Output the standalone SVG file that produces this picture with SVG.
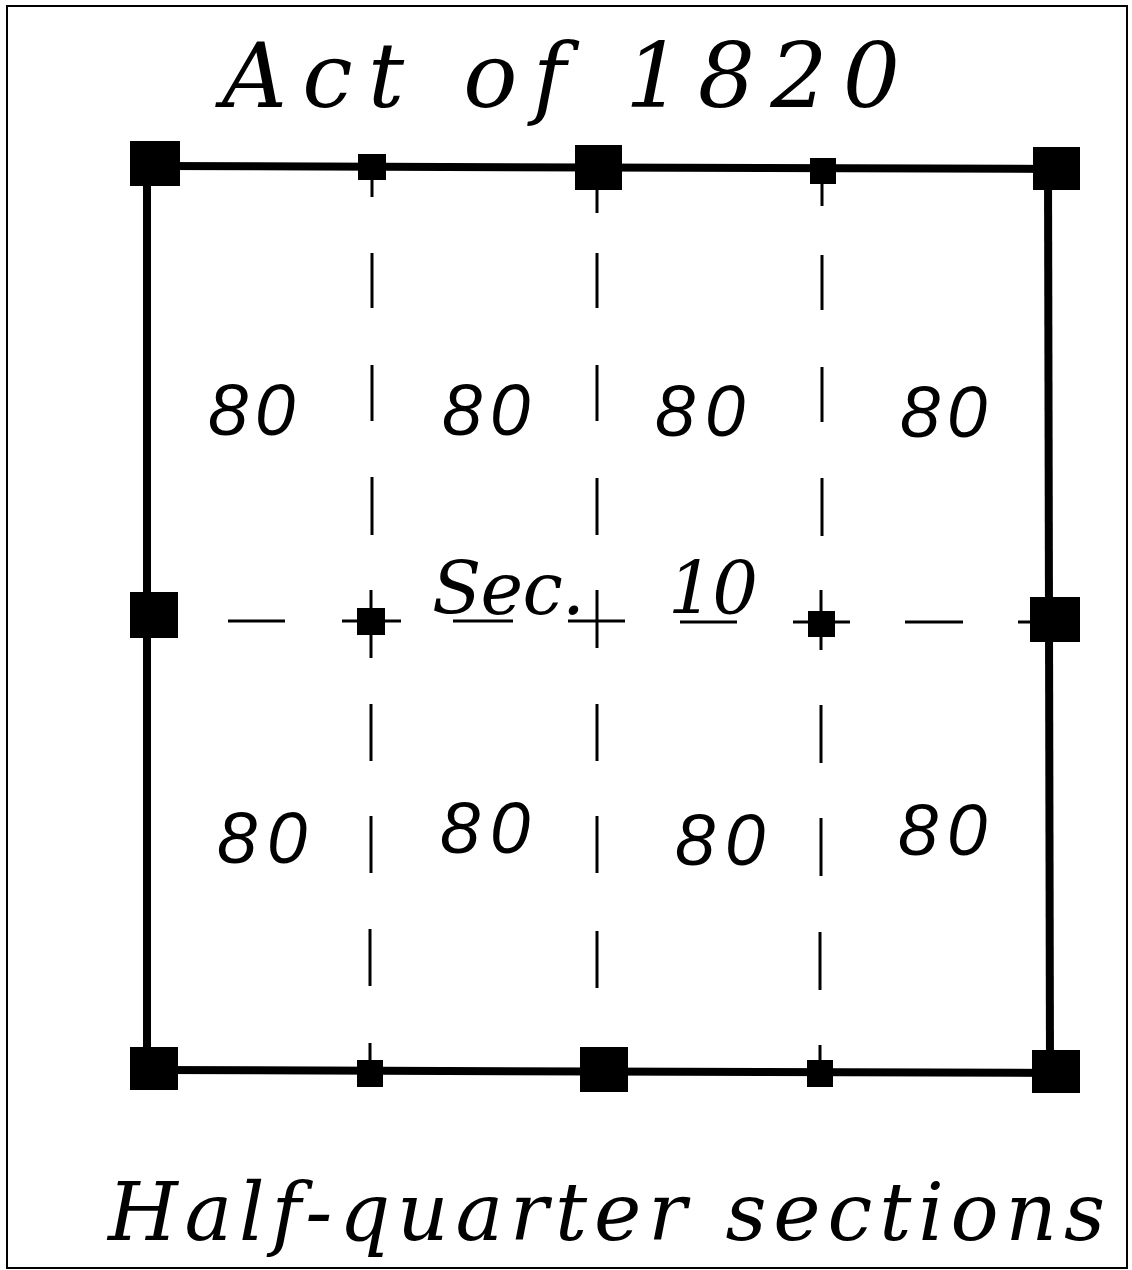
<svg xmlns="http://www.w3.org/2000/svg" width="1132" height="1270" viewBox="0 0 1132 1270">
<style>
.frame{fill:none;stroke:#000;stroke-width:2}
.edge{stroke:#000;stroke-width:8;fill:none;stroke-linecap:butt}
.dash{stroke:#000;stroke-width:3;fill:none}
.big{fill:#000}
.small{fill:#000}
.title{font-family:"DejaVu Serif","Liberation Serif",serif;font-style:italic;fill:#000}
.num{font-family:"Liberation Sans","DejaVu Sans",sans-serif;font-style:italic;font-size:72px;fill:#000}
</style>
<rect width="1132" height="1270" fill="#fff"/>
<rect class="frame" x="7" y="6" width="1120" height="1262"/>

<text id="title" class="title" x="222" y="107" font-size="90" textLength="678" lengthAdjust="spacing">Act of 1820</text>

<g id="connectors">
  <line class="edge" x1="155" y1="166" x2="1057" y2="169"/>
  <line class="edge" x1="147" y1="163" x2="147" y2="1068"/>
  <line class="edge" x1="1048" y1="168" x2="1050" y2="1072"/>
  <line class="edge" x1="154" y1="1070" x2="1056" y2="1073"/>
  <path class="dash" d="M372 178V197 M372 253V308 M372 365V421 M372 477V535 M371 590V658 M371 704V761 M371 816V873 M370 929V986 M370 1043V1062"/>
  <path class="dash" d="M597 188V213 M597 253V308 M597 365V421 M597 478V535 M597 590V648 M597 704V761 M597 816V873 M597 931V988"/>
  <path class="dash" d="M822 183V206 M822 255V310 M822 367V422 M822 478V536 M821 590V650 M821 705V763 M821 818V876 M820 932V990 M820 1045V1062"/>
  <path class="dash" d="M228 621H285 M342 621H401 M453 621H513 M568 621H625 M680 622H737 M793 622H850 M905 622H963 M1018 622H1032"/>
</g>

<g id="corner-markers">
  <rect class="big" x="130" y="141" width="50" height="45"/>
  <rect class="big" x="575" y="145" width="47" height="45"/>
  <rect class="big" x="1033" y="147" width="47" height="43"/>
  <rect class="big" x="130" y="592" width="48" height="46"/>
  <rect class="big" x="1030" y="597" width="50" height="45"/>
  <rect class="big" x="130" y="1047" width="48" height="43"/>
  <rect class="big" x="580" y="1047" width="48" height="45"/>
  <rect class="big" x="1032" y="1050" width="48" height="43"/>
</g>

<g id="quarter-markers">
  <rect class="small" x="358" y="154" width="28" height="26"/>
  <rect class="small" x="810" y="158" width="26" height="26"/>
  <rect class="small" x="357" y="608" width="28" height="27"/>
  <rect class="small" x="808" y="611" width="27" height="26"/>
  <rect class="small" x="357" y="1060" width="26" height="27"/>
  <rect class="small" x="807" y="1060" width="26" height="27"/>
</g>

<g id="labels">
  <text class="num" x="208" y="435" textLength="87" lengthAdjust="spacing">80</text>
  <text class="num" x="442" y="435" textLength="88" lengthAdjust="spacing">80</text>
  <text class="num" x="655" y="436" textLength="90" lengthAdjust="spacing">80</text>
  <text class="num" x="900" y="437" textLength="87" lengthAdjust="spacing">80</text>
  <text class="num" x="217" y="863" textLength="90" lengthAdjust="spacing">80</text>
  <text class="num" x="440" y="853" textLength="90" lengthAdjust="spacing">80</text>
  <text class="num" x="675" y="865" textLength="90" lengthAdjust="spacing">80</text>
  <text class="num" x="898" y="855" textLength="89" lengthAdjust="spacing">80</text>
</g>

<text id="section-label" class="title" font-size="72" y="614"><tspan x="432" textLength="153" lengthAdjust="spacing">Sec.</tspan> <tspan x="668" textLength="90" lengthAdjust="spacing">10</tspan></text>

<text id="caption" class="title" x="108" y="1240" font-size="80" textLength="997" lengthAdjust="spacing">Half-quarter sections</text>
</svg>
